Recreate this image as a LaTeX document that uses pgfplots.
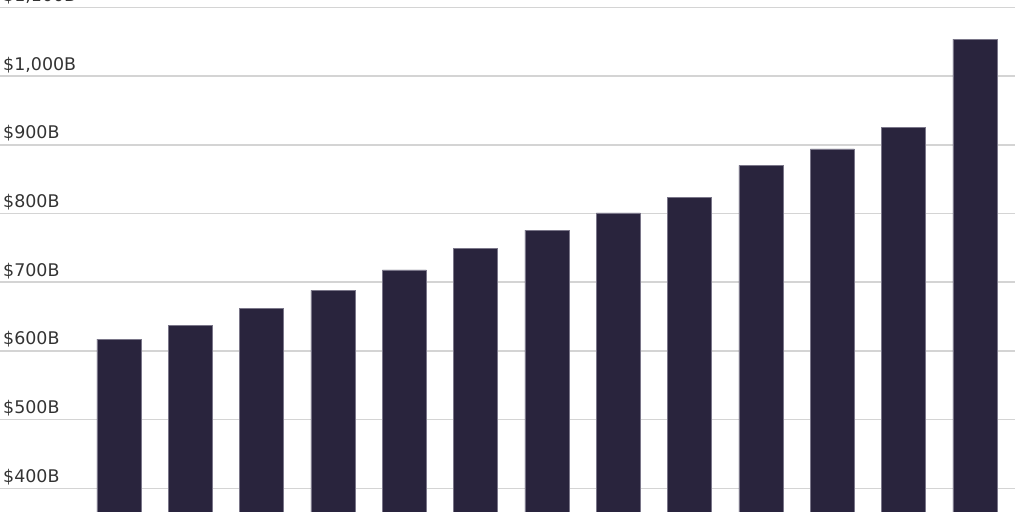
\documentclass[border=0pt]{standalone}
\usepackage{fontspec}
\setmainfont{DejaVu Sans}
\usepackage{pgfplots}
\pgfplotsset{compat=1.18}
\definecolor{barcol}{HTML}{29243D}
\definecolor{baredge}{HTML}{7A7689}
\definecolor{gridcol}{HTML}{D4D4D4}
\definecolor{labcol}{HTML}{333333}
\begin{document}
\begin{tikzpicture}
\begin{axis}[
  at={(0,0)}, anchor=south west,
  scale only axis, width=1015bp, height=512bp,
  xmin=-0.668, xmax=13.561, ymin=365.5, ymax=1110.9,
  axis line style={draw=none},
  major tick length=0pt,
  xtick=\empty,
  ytick={400,500,600,700,800,900,1000,1100},
  yticklabels={\$400B,\$500B,\$600B,\$700B,\$800B,\$900B,{\$1,000B},{\$1,100B}},
  yticklabel style={anchor=base west, inner sep=0pt, xshift=3bp, yshift=6bp,
    font=\fontsize{17.5}{17.5}\selectfont, text=labcol},
  ymajorgrids,
  grid style={gridcol, line width=1.5bp},
]
\addplot[ybar, bar width=44bp, fill=barcol, draw=baredge, line width=0.5bp]
  coordinates {
  (1,617) (2,637) (3,662) (4,688) (5,718) (6,749) (7,776)
  (8,801) (9,824) (10,870) (11,894) (12,926) (13,1054)
};
\end{axis}
\pgfresetboundingbox
\path (0,0) rectangle (1024bp,512bp);
\end{tikzpicture}
\end{document}
